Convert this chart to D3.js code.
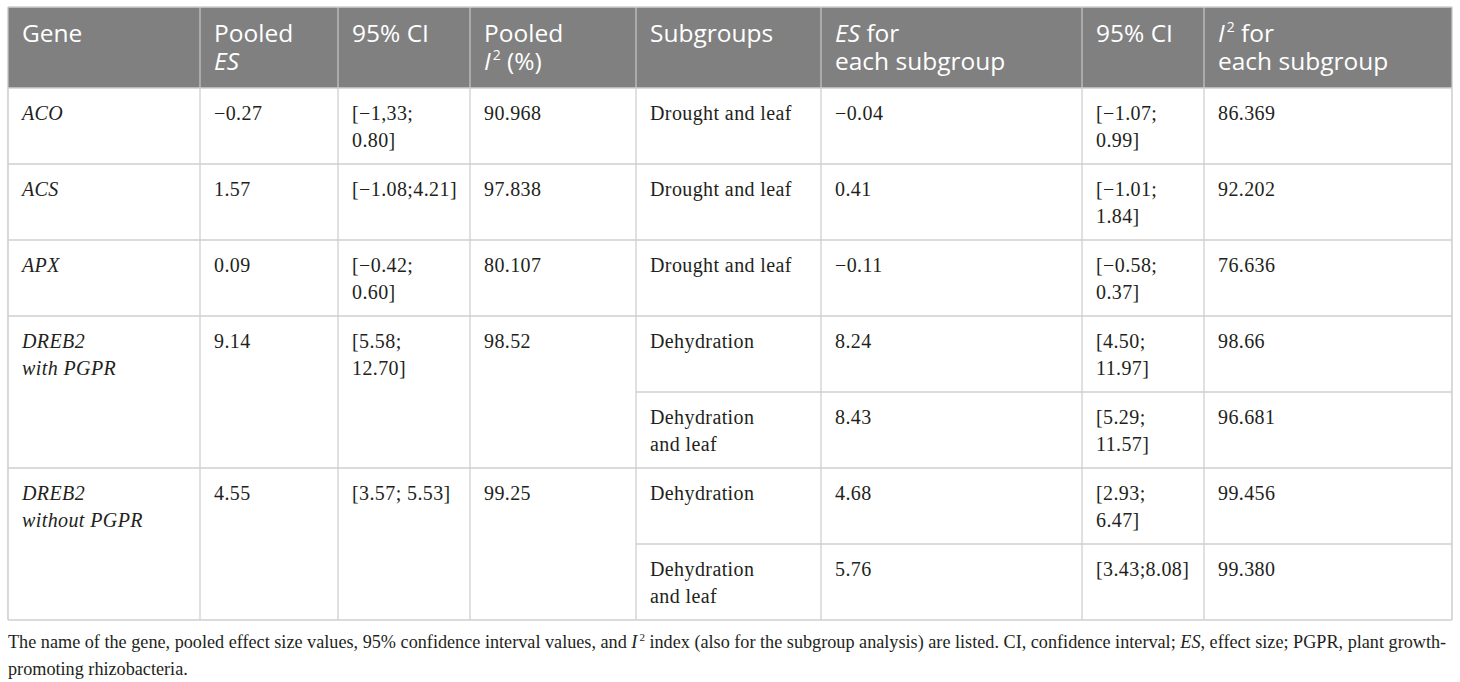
<!DOCTYPE html>
<html>
<head>
<meta charset="utf-8">
<script src="https://cdn.jsdelivr.net/npm/d3@7"></script>
<style>
  body { margin: 0; background: #fff; }
</style>
</head>
<body>
<div id="table"></div>
<script>
// table content (markup: *text* = italic, ^x = superscript)
var headers = [
    ["Gene"],
    ["Pooled", "*ES*"],
    ["95% CI"],
    ["Pooled", "*I*^2 (%)"],
    ["Subgroups"],
    ["*ES* for", "each subgroup"],
    ["95% CI"],
    ["*I*^2 for", "each subgroup"]
];

var genes = [
    ["*ACO*"],
    ["*ACS*"],
    ["*APX*"],
    ["*DREB2*", "*with PGPR*"],
    ["*DREB2*", "*without PGPR*"]
];
var pooledES = ["−0.27", "1.57", "0.09", "9.14", "4.55"];
var pooledCI = [["[−1,33;", "0.80]"], ["[−1.08;4.21]"], ["[−0.42;", "0.60]"], ["[5.58;", "12.70]"], ["[3.57; 5.53]"]];
var pooledI2 = ["90.968", "97.838", "80.107", "98.52", "99.25"];

// subgroup rows, each pointing to its gene
var subGene = [0, 1, 2, 3, 3, 4, 4];
var subgroups = [["Drought and leaf"], ["Drought and leaf"], ["Drought and leaf"], ["Dehydration"],
    ["Dehydration", "and leaf"], ["Dehydration"], ["Dehydration", "and leaf"]];
var subES = ["−0.04", "0.41", "−0.11", "8.24", "8.43", "4.68", "5.76"];
var subCI = [["[−1.07;", "0.99]"], ["[−1.01;", "1.84]"], ["[−0.58;", "0.37]"], ["[4.50;", "11.97]"],
    ["[5.29;", "11.57]"], ["[2.93;", "6.47]"], ["[3.43;8.08]"]];
var subI2 = ["86.369", "92.202", "76.636", "98.66", "96.681", "99.456", "99.380"];

var caption = [
    "The name of the gene, pooled effect size values, 95% confidence interval values, and *I*^2 index (also for the subgroup analysis) are listed. CI, confidence interval; *ES*, effect size; PGPR, plant growth-",
    "promoting rhizobacteria."
];

drawTable();

function drawTable() {
    var width = 1460, height = 682;
    var colEdges = [8, 200, 338, 470, 636, 821, 1082, 1204, 1452];
    var top = 7, headBottom = 88, bottom = 620;
    var pad = 14, lineH = 27;
    var serif = "'Liberation Serif', 'Times New Roman', serif";
    var sans = "'Open Sans', 'Noto Sans', sans-serif";

    var svg = d3.select("#table").append("svg")
        .attr("width", width)
        .attr("height", height);

    var yRow = d3.scaleBand()
        .domain(d3.range(subGene.length))
        .range([headBottom, bottom]);

    // header band
    svg.append("rect")
        .attr("x", colEdges[0])
        .attr("y", top)
        .attr("width", colEdges[colEdges.length - 1] - colEdges[0])
        .attr("height", headBottom - top)
        .attr("fill", "#808080");

    // vertical lines
    svg.selectAll(".vline")
        .data(colEdges)
        .enter()
        .append("line")
        .attr("x1", function (d) { return d; })
        .attr("x2", function (d) { return d; })
        .attr("y1", top)
        .attr("y2", bottom)
        .attr("stroke", function (d, i) { return (i == 0 || i == colEdges.length - 1) ? "#c4c4c4" : "#cfcfcf"; })
        .attr("stroke-width", 1.3);

    // header inner lines lighter
    svg.selectAll(".hvline")
        .data(colEdges.slice(1, -1))
        .enter()
        .append("line")
        .attr("x1", function (d) { return d; })
        .attr("x2", function (d) { return d; })
        .attr("y1", top)
        .attr("y2", headBottom)
        .attr("stroke", "#a6a6a6")
        .attr("stroke-width", 1.3);

    // horizontal lines: gene boundaries over the whole width, subgroup boundaries on the right half
    var hlines = [];
    hlines.push({y: top, x1: colEdges[0], x2: colEdges[8]});
    subGene.forEach(function (g, i) {
        var y = yRow(i);
        var full = (i == 0 || subGene[i - 1] != g);
        hlines.push({y: y, x1: full ? colEdges[0] : colEdges[4], x2: colEdges[8]});
    });
    hlines.push({y: bottom, x1: colEdges[0], x2: colEdges[8]});

    svg.selectAll(".hline")
        .data(hlines)
        .enter()
        .append("line")
        .attr("x1", function (d) { return d.x1; })
        .attr("x2", function (d) { return d.x2; })
        .attr("y1", function (d) { return d.y; })
        .attr("y2", function (d) { return d.y; })
        .attr("stroke", "#cfcfcf")
        .attr("stroke-width", 1.3);

    // header text
    headers.forEach(function (lines, c) {
        cellText(lines, colEdges[c] + pad, top + 35, 28, {
            family: sans, size: 24.5, color: "#ffffff", supSize: 14, supShift: 10
        });
    });

    var bodyStyle = {family: serif, size: 20, spacing: 0.4, color: "#231f20", supSize: 12, supShift: 8};

    // pooled columns, one cell per gene
    var pooledCols = [genes, pooledES.map(function (d) { return [d]; }), pooledCI, pooledI2.map(function (d) { return [d]; })];
    genes.forEach(function (g, gi) {
        var firstRow = subGene.indexOf(gi);
        pooledCols.forEach(function (col, c) {
            cellText(col[gi], colEdges[c] + pad, yRow(firstRow) + 32, lineH, bodyStyle);
        });
    });

    // subgroup columns, one cell per row
    var subCols = [subgroups, subES.map(function (d) { return [d]; }), subCI, subI2.map(function (d) { return [d]; })];
    subGene.forEach(function (g, r) {
        subCols.forEach(function (col, c) {
            cellText(col[r], colEdges[c + 4] + pad, yRow(r) + 32, lineH, bodyStyle);
        });
    });

    // caption under the table
    cellText(caption, colEdges[0], 648, 27, {
        family: serif, size: 18.2, color: "#231f20", supSize: 11, supShift: 7
    });

    // one <text> per cell, one tspan per line
    function cellText(lines, x, y0, lh, st) {
        var t = svg.append("text")
            .attr("font-family", st.family)
            .attr("font-size", st.size + "px")
            .attr("letter-spacing", st.spacing || 0)
            .attr("fill", st.color);
        lines.forEach(function (line, li) {
            var row = t.append("tspan")
                .attr("x", x)
                .attr("y", y0 + li * lh);
            var parts = line.split(/(\*[^*]+\*|\^\w+)/).filter(function (p) { return p.length; });
            var shifted = false;
            parts.forEach(function (p) {
                var span = row.append("tspan");
                if (p[0] == "*") {
                    span.text(p.slice(1, -1)).attr("font-style", "italic");
                } else if (p[0] == "^") {
                    span.text(p.slice(1))
                        .attr("font-size", (st.supSize || 12) + "px")
                        .attr("dx", 2)
                        .attr("dy", -(st.supShift || 8));
                    shifted = true;
                    return;
                } else {
                    span.text(p);
                }
                if (shifted) {
                    span.attr("dy", st.supShift || 8);
                    shifted = false;
                }
            });
        });
    }
}
</script>
</body>
</html>
